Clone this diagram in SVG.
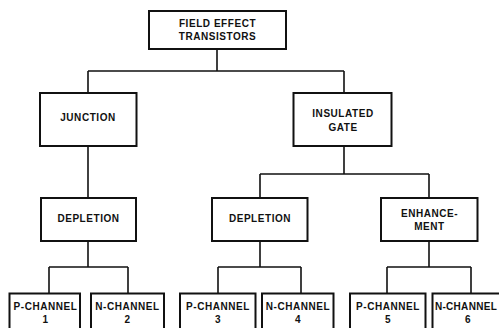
<svg xmlns="http://www.w3.org/2000/svg" width="499" height="328" viewBox="0 0 499 328">
<style>
.box{fill:#fff;stroke:#111;stroke-width:2}
.ln{fill:none;stroke:#111;stroke-width:1.6}
text{font-family:"Liberation Sans",Arial,sans-serif;font-weight:bold;font-size:10px;fill:#111;text-anchor:middle;letter-spacing:0.55px}
</style>
<rect width="499" height="328" fill="#fff"/>
<g id="connectors">
<path class="ln" d="M217,49 V71 M88,71 H344 M88,71 V93 M344,71 V93"/>
<path class="ln" d="M88,146 V198"/>
<path class="ln" d="M344,146 V174 M260,174 H429 M260,174 V198 M429,174 V198"/>
<path class="ln" d="M88,241 V267 M49,267 H128 M49,267 V293 M128,267 V293"/>
<path class="ln" d="M260,241 V267 M218,267 H301 M218,267 V293 M301,267 V293"/>
<path class="ln" d="M429,241 V267 M387,267 H471 M387,267 V293 M471,267 V293"/>
</g>
<g id="fet"><rect class="box" x="149" y="11" width="137" height="38"/><text x="217.5" y="27.3">FIELD EFFECT</text><text x="217.5" y="40.3">TRANSISTORS</text></g>
<g id="junction"><rect class="box" x="40" y="93" width="96.5" height="53"/><text x="88" y="120.7">JUNCTION</text></g>
<g id="insulated"><rect class="box" x="293.5" y="93" width="98" height="53"/><text x="343" y="117.3">INSULATED</text><text x="343" y="130.7">GATE</text></g>
<g id="depletion1"><rect class="box" x="41" y="198" width="95" height="43"/><text x="88.5" y="222.3">DEPLETION</text></g>
<g id="depletion2"><rect class="box" x="212" y="198" width="95.5" height="43"/><text x="260" y="222.3">DEPLETION</text></g>
<g id="enhancement"><rect class="box" x="381" y="198" width="96.5" height="43"/><text x="429.5" y="216.7">ENHANCE-</text><text x="429.5" y="230">MENT</text></g>
<g id="p1"><rect class="box" x="9.5" y="293.5" width="70.5" height="45"/><text x="45.5" y="310">P-CHANNEL</text><text x="45.5" y="323.3">1</text></g>
<g id="n2"><rect class="box" x="91" y="293.5" width="73" height="45"/><text x="127.5" y="310">N-CHANNEL</text><text x="127.5" y="323.3">2</text></g>
<g id="p3"><rect class="box" x="180" y="293.5" width="75.5" height="45"/><text x="218" y="310">P-CHANNEL</text><text x="218" y="323.3">3</text></g>
<g id="n4"><rect class="box" x="262" y="293.5" width="71.5" height="45"/><text x="298" y="310">N-CHANNEL</text><text x="298" y="323.3">4</text></g>
<g id="p5"><rect class="box" x="350" y="293.5" width="75.5" height="45"/><text x="388" y="310">P-CHANNEL</text><text x="388" y="323.3">5</text></g>
<g id="n6"><rect class="box" x="432.5" y="293.5" width="75" height="45"/><text x="466" y="310" style="letter-spacing:0.3px">N-CHANNEL</text><text x="468" y="323.3">6</text></g>
</svg>
